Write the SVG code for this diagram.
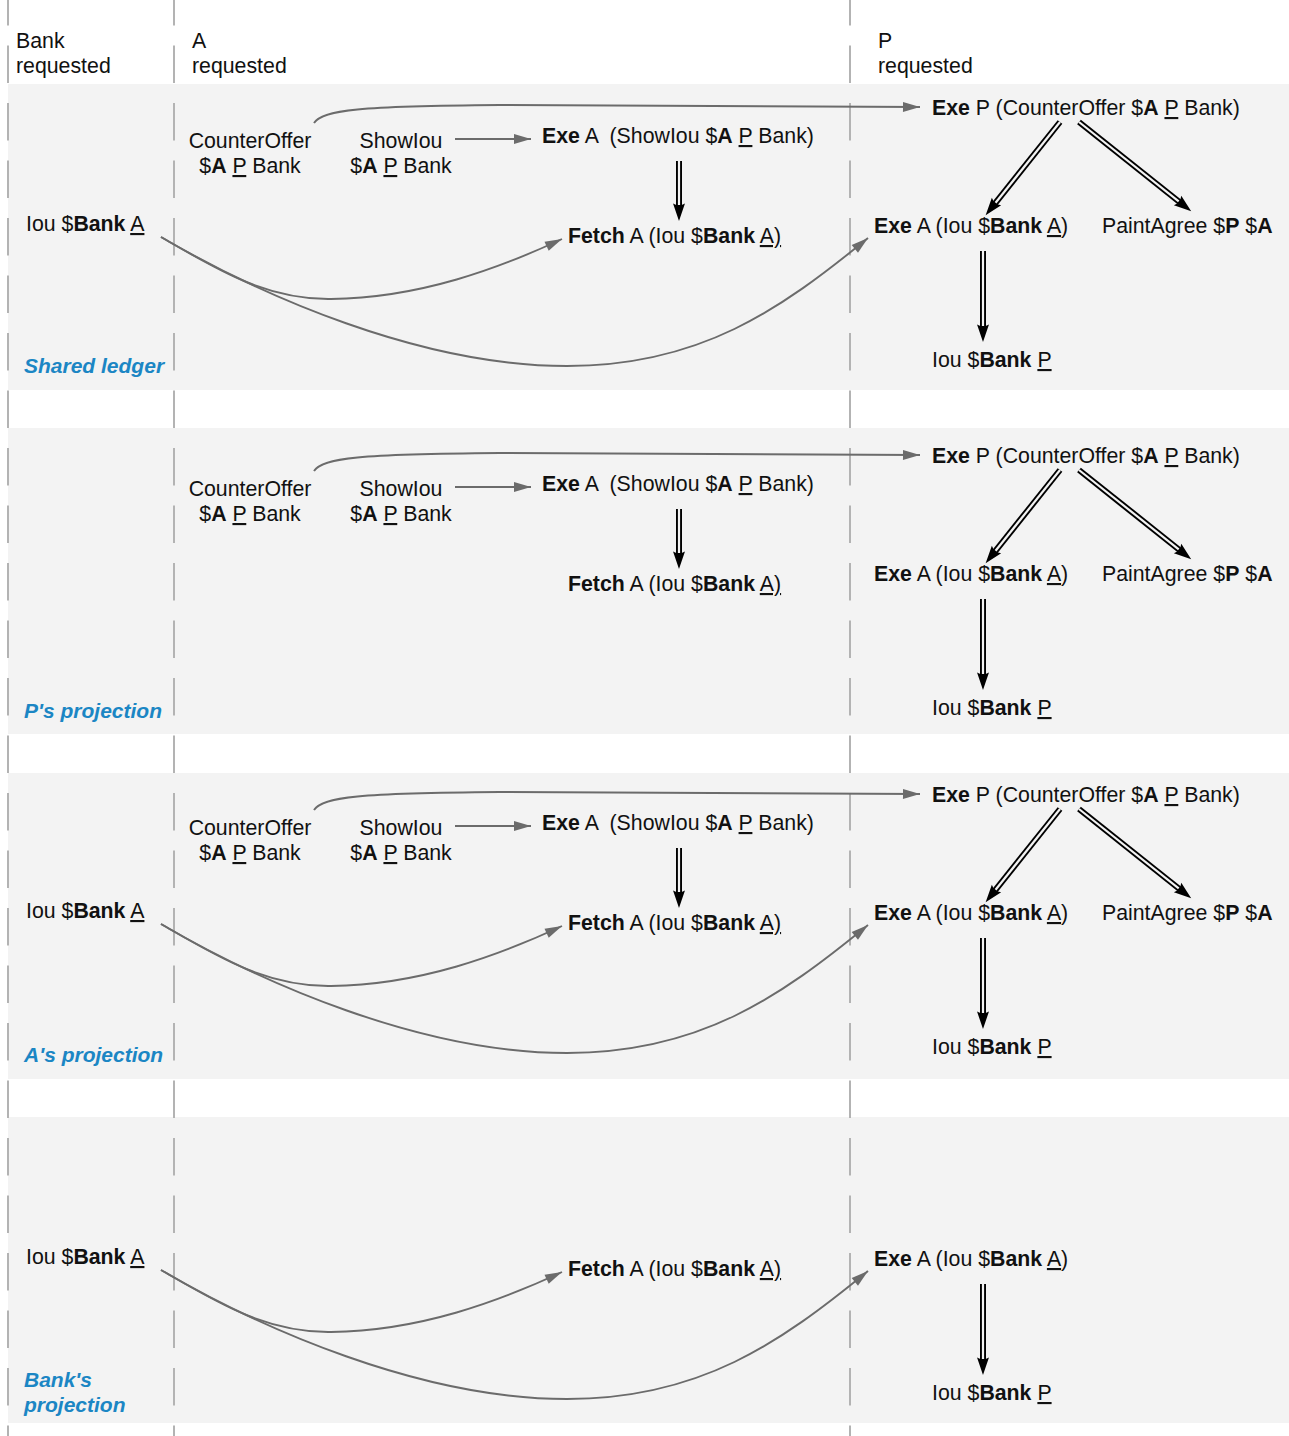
<svg xmlns="http://www.w3.org/2000/svg" width="1289" height="1436" viewBox="0 0 1289 1436">
<style>
.t{font-family:"Liberation Sans",Arial,sans-serif;font-size:21.3px;fill:#111}
.b{font-weight:bold}
.u{text-decoration:underline}
.lbl{font-family:"Liberation Sans",Arial,sans-serif;font-size:21px;font-weight:bold;font-style:italic;fill:#1b86c4}
.gl{fill:none;stroke:#6b6b6b;stroke-width:1.9;marker-end:url(#ga)}
.dbo{fill:none;stroke:#000;stroke-width:6;marker-end:url(#da)}
.dbi{fill:none;stroke:#f3f3f3;stroke-width:2.2}
.vl{stroke:#b3b3b3;stroke-width:2;stroke-dasharray:37.5 20}
.pan{fill:#f3f3f3}
</style>
<defs>
<marker id="ga" markerUnits="userSpaceOnUse" markerWidth="20" markerHeight="12" refX="17" refY="5" orient="auto" viewBox="0 0 20 12" overflow="visible"><path d="M0,0 L17,5 L0,10 z" fill="#6b6b6b"/></marker>
<marker id="da" markerUnits="userSpaceOnUse" markerWidth="22" markerHeight="16" refX="7" refY="0" orient="auto" viewBox="-2 -8 24 16" overflow="visible"><path d="M0,-6.5 L19,0 L0,6.5 L3,0 z" fill="#000"/></marker>
</defs>
<rect width="1289" height="1436" fill="#fff"/>
<g id="panels">
<rect class="pan" x="8" y="84" width="1281" height="306"/>
<rect class="pan" x="8" y="428" width="1281" height="306"/>
<rect class="pan" x="8" y="773" width="1281" height="306"/>
<rect class="pan" x="8" y="1117" width="1281" height="306"/>
</g>
<g id="lanes">
<line class="vl" x1="8" y1="-12" x2="8" y2="1436"/>
<line class="vl" x1="174" y1="-12" x2="174" y2="1436"/>
<line class="vl" x1="850" y1="-12" x2="850" y2="1436"/>
</g>
<g id="headers">
<text class="t" x="16" y="48">Bank</text><text class="t" x="16" y="73">requested</text>
<text class="t" x="192" y="48">A</text><text class="t" x="192" y="73">requested</text>
<text class="t" x="878" y="48">P</text><text class="t" x="878" y="73">requested</text>
</g>
<g id="labels">
<text class="lbl" x="24" y="373">Shared ledger</text>
<text class="lbl" x="24" y="718">P's projection</text>
<text class="lbl" x="24" y="1062">A's projection</text>
<text class="lbl" x="24" y="1387">Bank's</text>
<text class="lbl" x="24" y="1412">projection</text>
</g>
<g id="connectors">
<g id="c1">
<path class="gl" d="M314,123 C322,110 360,106 500,105 L920,107"/>
<path class="gl" d="M455,139 L531,139"/>
<path class="gl" d="M161,237 C215,268 265,300 331,299 C420,298 500,268 562,239"/>
<path class="gl" d="M161,237 C260,295 420,366 567,366 C700,366 780,310 868,238"/>
<path class="dbo" d="M679,161 L679,210"/><path class="dbi" d="M679,161 L679,205"/>
<path class="dbo" d="M983,251 L983,331"/><path class="dbi" d="M983,251 L983,326"/>
<path class="dbo" d="M1060,122 L992.5,206.6"/><path class="dbi" d="M1060,122 L995.6,202.7"/>
<path class="dbo" d="M1079,122 L1182.6,204.5"/><path class="dbi" d="M1079,122 L1178.7,201.3"/>
</g>
<g id="c2" transform="translate(0,348)">
<path class="gl" d="M314,123 C322,110 360,106 500,105 L920,107"/>
<path class="gl" d="M455,139 L531,139"/>
<path class="dbo" d="M679,161 L679,210"/><path class="dbi" d="M679,161 L679,205"/>
<path class="dbo" d="M983,251 L983,331"/><path class="dbi" d="M983,251 L983,326"/>
<path class="dbo" d="M1060,122 L992.5,206.6"/><path class="dbi" d="M1060,122 L995.6,202.7"/>
<path class="dbo" d="M1079,122 L1182.6,204.5"/><path class="dbi" d="M1079,122 L1178.7,201.3"/>
</g>
<g id="c3" transform="translate(0,687)">
<path class="gl" d="M314,123 C322,110 360,106 500,105 L920,107"/>
<path class="gl" d="M455,139 L531,139"/>
<path class="gl" d="M161,237 C215,268 265,300 331,299 C420,298 500,268 562,239"/>
<path class="gl" d="M161,237 C260,295 420,366 567,366 C700,366 780,310 868,238"/>
<path class="dbo" d="M679,161 L679,210"/><path class="dbi" d="M679,161 L679,205"/>
<path class="dbo" d="M983,251 L983,331"/><path class="dbi" d="M983,251 L983,326"/>
<path class="dbo" d="M1060,122 L992.5,206.6"/><path class="dbi" d="M1060,122 L995.6,202.7"/>
<path class="dbo" d="M1079,122 L1182.6,204.5"/><path class="dbi" d="M1079,122 L1178.7,201.3"/>
</g>
<g id="c4" transform="translate(0,1033)">
<path class="gl" d="M161,237 C215,268 265,300 331,299 C420,298 500,268 562,239"/>
<path class="gl" d="M161,237 C260,295 420,366 567,366 C700,366 780,310 868,238"/>
<path class="dbo" d="M983,251 L983,331"/><path class="dbi" d="M983,251 L983,326"/>
</g>
</g>
<g id="panel1">
<g id="p1-iou-bank-a"><text class="t" x="26" y="231">Iou $<tspan class="b">Bank</tspan> <tspan class="u">A</tspan></text></g>
<g id="p1-counteroffer"><text class="t" x="250" y="148" text-anchor="middle">CounterOffer</text><text class="t" x="250" y="173" text-anchor="middle">$<tspan class="b">A</tspan> <tspan class="u">P</tspan> Bank</text></g>
<g id="p1-showiou"><text class="t" x="401" y="148" text-anchor="middle">ShowIou</text><text class="t" x="401" y="173" text-anchor="middle">$<tspan class="b">A</tspan> <tspan class="u">P</tspan> Bank</text></g>
<g id="p1-exe-a-showiou"><text class="t" x="542" y="143" xml:space="preserve"><tspan class="b">Exe</tspan> A  (ShowIou $<tspan class="b">A</tspan> <tspan class="u">P</tspan> Bank)</text></g>
<g id="p1-fetch"><text class="t" x="568" y="243"><tspan class="b">Fetch</tspan> A (Iou $<tspan class="b">Bank</tspan> <tspan class="u">A)</tspan></text></g>
<g id="p1-exe-p"><text class="t" x="932" y="115"><tspan class="b">Exe</tspan> P (CounterOffer $<tspan class="b">A</tspan> <tspan class="u">P</tspan> Bank)</text></g>
<g id="p1-exe-a-iou"><text class="t" x="874" y="233"><tspan class="b">Exe</tspan> A (Iou $<tspan class="b">Bank</tspan> <tspan class="u">A</tspan>)</text></g>
<g id="p1-paintagree"><text class="t" x="1102" y="233">PaintAgree $<tspan class="b">P</tspan> $<tspan class="b">A</tspan></text></g>
<g id="p1-iou-bank-p"><text class="t" x="932" y="367">Iou $<tspan class="b">Bank</tspan> <tspan class="u">P</tspan></text></g>
</g>
<g id="panel2" transform="translate(0,348)">
<g id="p2-counteroffer"><text class="t" x="250" y="148" text-anchor="middle">CounterOffer</text><text class="t" x="250" y="173" text-anchor="middle">$<tspan class="b">A</tspan> <tspan class="u">P</tspan> Bank</text></g>
<g id="p2-showiou"><text class="t" x="401" y="148" text-anchor="middle">ShowIou</text><text class="t" x="401" y="173" text-anchor="middle">$<tspan class="b">A</tspan> <tspan class="u">P</tspan> Bank</text></g>
<g id="p2-exe-a-showiou"><text class="t" x="542" y="143" xml:space="preserve"><tspan class="b">Exe</tspan> A  (ShowIou $<tspan class="b">A</tspan> <tspan class="u">P</tspan> Bank)</text></g>
<g id="p2-fetch"><text class="t" x="568" y="243"><tspan class="b">Fetch</tspan> A (Iou $<tspan class="b">Bank</tspan> <tspan class="u">A)</tspan></text></g>
<g id="p2-exe-p"><text class="t" x="932" y="115"><tspan class="b">Exe</tspan> P (CounterOffer $<tspan class="b">A</tspan> <tspan class="u">P</tspan> Bank)</text></g>
<g id="p2-exe-a-iou"><text class="t" x="874" y="233"><tspan class="b">Exe</tspan> A (Iou $<tspan class="b">Bank</tspan> <tspan class="u">A</tspan>)</text></g>
<g id="p2-paintagree"><text class="t" x="1102" y="233">PaintAgree $<tspan class="b">P</tspan> $<tspan class="b">A</tspan></text></g>
<g id="p2-iou-bank-p"><text class="t" x="932" y="367">Iou $<tspan class="b">Bank</tspan> <tspan class="u">P</tspan></text></g>
</g>
<g id="panel3" transform="translate(0,687)">
<g id="p3-iou-bank-a"><text class="t" x="26" y="231">Iou $<tspan class="b">Bank</tspan> <tspan class="u">A</tspan></text></g>
<g id="p3-counteroffer"><text class="t" x="250" y="148" text-anchor="middle">CounterOffer</text><text class="t" x="250" y="173" text-anchor="middle">$<tspan class="b">A</tspan> <tspan class="u">P</tspan> Bank</text></g>
<g id="p3-showiou"><text class="t" x="401" y="148" text-anchor="middle">ShowIou</text><text class="t" x="401" y="173" text-anchor="middle">$<tspan class="b">A</tspan> <tspan class="u">P</tspan> Bank</text></g>
<g id="p3-exe-a-showiou"><text class="t" x="542" y="143" xml:space="preserve"><tspan class="b">Exe</tspan> A  (ShowIou $<tspan class="b">A</tspan> <tspan class="u">P</tspan> Bank)</text></g>
<g id="p3-fetch"><text class="t" x="568" y="243"><tspan class="b">Fetch</tspan> A (Iou $<tspan class="b">Bank</tspan> <tspan class="u">A)</tspan></text></g>
<g id="p3-exe-p"><text class="t" x="932" y="115"><tspan class="b">Exe</tspan> P (CounterOffer $<tspan class="b">A</tspan> <tspan class="u">P</tspan> Bank)</text></g>
<g id="p3-exe-a-iou"><text class="t" x="874" y="233"><tspan class="b">Exe</tspan> A (Iou $<tspan class="b">Bank</tspan> <tspan class="u">A</tspan>)</text></g>
<g id="p3-paintagree"><text class="t" x="1102" y="233">PaintAgree $<tspan class="b">P</tspan> $<tspan class="b">A</tspan></text></g>
<g id="p3-iou-bank-p"><text class="t" x="932" y="367">Iou $<tspan class="b">Bank</tspan> <tspan class="u">P</tspan></text></g>
</g>
<g id="panel4" transform="translate(0,1033)">
<g id="p4-iou-bank-a"><text class="t" x="26" y="231">Iou $<tspan class="b">Bank</tspan> <tspan class="u">A</tspan></text></g>
<g id="p4-fetch"><text class="t" x="568" y="243"><tspan class="b">Fetch</tspan> A (Iou $<tspan class="b">Bank</tspan> <tspan class="u">A)</tspan></text></g>
<g id="p4-exe-a-iou"><text class="t" x="874" y="233"><tspan class="b">Exe</tspan> A (Iou $<tspan class="b">Bank</tspan> <tspan class="u">A</tspan>)</text></g>
<g id="p4-iou-bank-p"><text class="t" x="932" y="367">Iou $<tspan class="b">Bank</tspan> <tspan class="u">P</tspan></text></g>
</g>
</svg>
